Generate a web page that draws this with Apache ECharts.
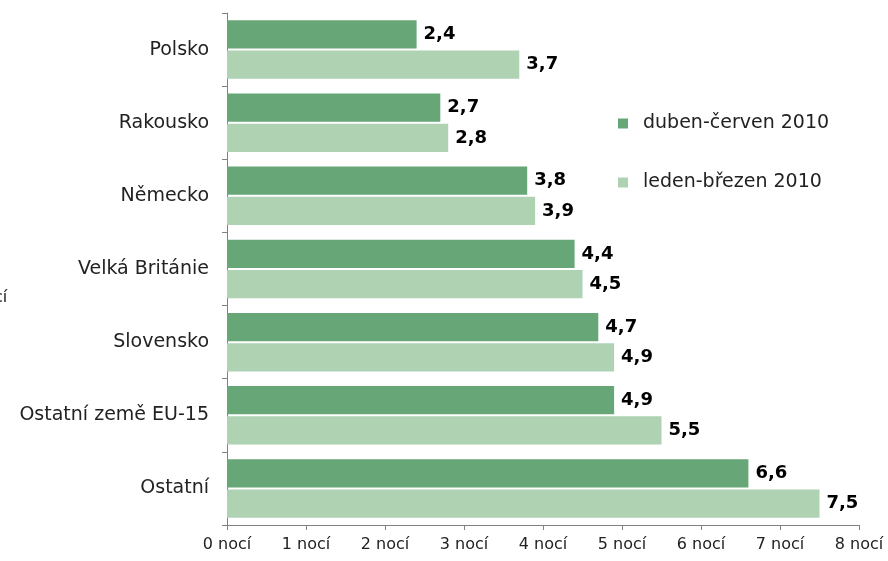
<!DOCTYPE html>
<html><head><meta charset="utf-8">
<script src="https://cdn.jsdelivr.net/npm/echarts@6/dist/echarts.min.js"></script>
<style>html,body{margin:0;padding:0;background:#fff}#c{width:888px;height:561px}</style>
</head><body><div id="c"></div>
<script>
const categories = ['Polsko','Rakousko','Německo','Velká Británie','Slovensko','Ostatní země EU-15','Ostatní'];
const seriesNames = ['duben-červen 2010','leden-březen 2010'];
const aprJun = [2.4, 2.7, 3.8, 4.4, 4.7, 4.9, 6.6];
const janMar = [3.7, 2.8, 3.9, 4.5, 4.9, 5.5, 7.5];
const xTicks = [0,1,2,3,4,5,6,7,8];
const font = '"DejaVu Sans", Verdana, sans-serif';
const chart = echarts.init(document.getElementById('c'));
const lbl = {show:true, position:'right', distance:7, color:'#000', fontWeight:'bold', fontSize:18, fontFamily:font,
  formatter: p => String(p.value).replace('.', ',')};
chart.setOption({
  animation:false,
  textStyle:{fontFamily:font},
  grid:{left:227, right:29, top:13, bottom:36, containLabel:false},
  legend:{orient:'vertical', left:613, top:109, itemWidth:10, itemHeight:10, itemGap:40, icon:'rect',
    textStyle:{fontSize:19, color:'#222', fontFamily:font, padding:[0,0,0,10]}, data:seriesNames},
  xAxis:{type:'value', min:0, max:8, interval:1,
    axisLine:{show:true, lineStyle:{color:'#808080'}},
    axisTick:{show:true, length:5, lineStyle:{color:'#808080'}},
    splitLine:{show:false},
    axisLabel:{fontSize:16, color:'#222', margin:12, fontFamily:font, formatter: v => xTicks.includes(v) ? v + ' nocí' : ''}},
  yAxis:{type:'category', inverse:true, data:categories,
    axisLine:{show:true, lineStyle:{color:'#808080'}},
    axisTick:{show:true, length:5, lineStyle:{color:'#808080'}},
    axisLabel:{fontSize:19, color:'#222', margin:18, fontFamily:font}},
  graphic:[{type:'text', left:-26, top:290, style:{text:'nocí', fontSize:16, fill:'#222', fontFamily:font}}],
  series:[
    {name:seriesNames[0], type:'bar', data:aprJun, itemStyle:{color:'#66a677'}, barGap:'7%', barCategoryGap:'20%', label:lbl},
    {name:seriesNames[1], type:'bar', data:janMar, itemStyle:{color:'#aed2b2'}, label:lbl}
  ]
});
</script></body></html>
